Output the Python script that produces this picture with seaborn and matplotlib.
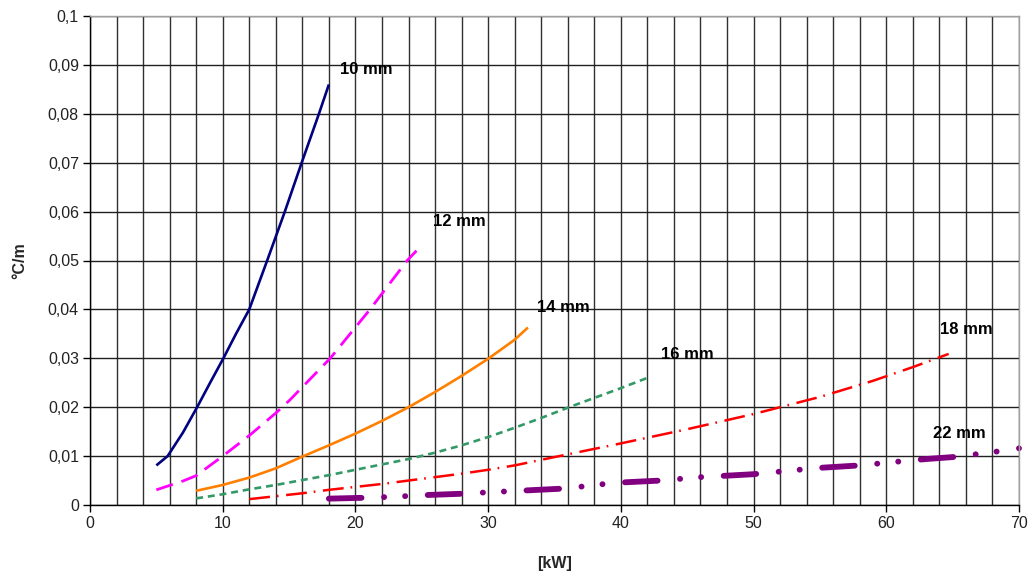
import numpy as np
import pandas as pd
import matplotlib
matplotlib.use("Agg")
import matplotlib.pyplot as plt
from matplotlib.ticker import MultipleLocator, FuncFormatter
import seaborn as sns

# ---- data ----
x_10 = [5.0, 5.85, 7.0, 8.07, 9.05, 10.05, 11.0, 12.0, 13.35, 14.68, 15.95, 17.25, 18.0]
y_10 = [0.0081, 0.010, 0.0148, 0.020, 0.025, 0.030, 0.035, 0.040, 0.050, 0.060, 0.070, 0.080, 0.086]

x_12 = [5.0, 7.0, 8.0, 10.0, 12.0, 14.0, 15.07, 18.1, 21.1, 23.9, 24.6]
y_12 = [0.0031, 0.0049, 0.0060, 0.010, 0.0142, 0.0188, 0.0215, 0.030, 0.040, 0.050, 0.052]

x_14 = [8, 10, 12, 14, 16, 18, 20, 22, 24, 26, 28, 30, 32, 33]
y_14 = [0.0029, 0.0041, 0.0056, 0.0075, 0.0099, 0.0122, 0.0146, 0.0172, 0.0200,
        0.0231, 0.0264, 0.0299, 0.0338, 0.0363]

x_16 = [8, 10, 12, 14, 16, 18, 20, 22, 24, 26, 28, 30, 32, 34, 36, 38, 40, 42]
y_16 = [0.00135, 0.0022, 0.0032, 0.0041, 0.0051, 0.0061, 0.0072, 0.0083, 0.0094, 0.0107,
        0.0122, 0.0139, 0.0158, 0.0178, 0.0199, 0.0219, 0.0239, 0.0260]

x_18 = [12, 14, 16, 18, 20, 22, 24, 26, 28, 30, 32, 35, 40, 45, 50, 52, 55, 59, 62, 64.7]
y_18 = [0.0012, 0.0018, 0.0024, 0.0031, 0.0037, 0.0043, 0.0050, 0.0057, 0.0064, 0.0072,
        0.0081, 0.0098, 0.0126, 0.0155, 0.0186, 0.0200, 0.0221, 0.0254, 0.0282, 0.0309]

x_22 = [18, 21, 23, 25, 28, 30, 33, 36, 38, 40, 43, 46, 48, 50, 53, 55, 58, 61, 63, 65, 68, 70]
y_22 = [0.0013, 0.0015, 0.0017, 0.0020, 0.0023, 0.0026, 0.0030, 0.0034, 0.0041, 0.0046,
        0.0050, 0.0057, 0.0060, 0.0063, 0.0071, 0.0076, 0.0081, 0.0089, 0.0094, 0.0098,
        0.0108, 0.0116]

series_names = ["10 mm", "12 mm", "14 mm", "16 mm", "18 mm", "22 mm"]
series_x = [x_10, x_12, x_14, x_16, x_18, x_22]
series_y = [y_10, y_12, y_14, y_16, y_18, y_22]

label_x = [18.8, 25.85, 33.7, 43.0, 64.05, 63.5]
label_y = [0.0890, 0.0579, 0.0403, 0.0307, 0.0358, 0.0147]

y_ticks = [0, 0.01, 0.02, 0.03, 0.04, 0.05, 0.06, 0.07, 0.08, 0.09, 0.1]
x_ticks = [0, 10, 20, 30, 40, 50, 60, 70]

# ---- styles ----
colors = ["#000080", "#FF00FF", "#FF7F00", "#339966", "#FF0000", "#800080"]
widths = [1.9, 2.0, 1.9, 1.9, 1.8, 4.2]
dash_styles = [None, (12.5, 6.5), None, (5.0, 3.5), (15, 5, 1.2, 5.5),
               (23.5, 16.2, 0.1, 15.1, 0.1, 16.2)]

sns.set_theme(style="white")
plt.rcParams["font.family"] = ["Liberation Sans", "DejaVu Sans"]
plt.rcParams["lines.scale_dashes"] = False

frames = []
for name, xs, ys in zip(series_names, series_x, series_y):
    frames.append(pd.DataFrame({"kW": xs, "val": ys, "pipe": name}))
df = pd.concat(frames, ignore_index=True)

fig = plt.figure(figsize=(10.33, 5.74), dpi=100)
ax = fig.add_axes([90 / 1033, 1 - 505 / 574, (1019 - 90) / 1033, (505 - 16) / 574])

for name, col, lw, ds in zip(series_names, colors, widths, dash_styles):
    sub = df[df["pipe"] == name]
    sns.lineplot(data=sub, x="kW", y="val", ax=ax, color=col, linewidth=lw,
                 estimator=None, sort=False, legend=False)
    ln = ax.lines[-1]
    ln.set_solid_joinstyle("round")
    ln.set_dash_joinstyle("round")
    if ds is not None:
        ln.set_dashes(ds)
        ln.set_dash_capstyle("round" if name == "22 mm" else "butt")
    ln.set_solid_capstyle("butt")
    if name == "22 mm":
        ln.set_clip_on(False)

for name, lx, ly in zip(series_names, label_x, label_y):
    ax.text(lx, ly, name, fontsize=12, fontweight="bold", color="black",
            ha="left", va="center")

ax.set_xlim(0, 70)
ax.set_ylim(0, 0.1)
ax.set_xticks(x_ticks)
ax.set_yticks(y_ticks)
ax.xaxis.set_minor_locator(MultipleLocator(2))
ax.yaxis.set_major_formatter(FuncFormatter(
    lambda v, p: ("%.2f" % v).rstrip("0").rstrip(".").replace(".", ",")))

ax.set_axisbelow(True)
ax.grid(True, which="major", axis="y", color="#202020", linewidth=1.0)
ax.grid(True, which="both", axis="x", color="#303030", linewidth=1.0)

ax.tick_params(axis="both", which="major", direction="out", length=5, width=1,
               color="black", labelsize=11.5, labelcolor="#222222", pad=3,
               bottom=True, left=True)
ax.tick_params(axis="x", which="minor", length=0)

for side in ["left", "bottom"]:
    ax.spines[side].set_color("black")
    ax.spines[side].set_linewidth(1.0)
for side in ["top", "right"]:
    ax.spines[side].set_color("#a0a0a0")
    ax.spines[side].set_linewidth(1.0)

ax.set_xlabel("[kW]", fontsize=11.5, fontweight="bold", labelpad=18)
ax.set_ylabel("°C/m", fontsize=11.5, fontweight="bold", labelpad=15)

fig.savefig("out.png", dpi=100)
